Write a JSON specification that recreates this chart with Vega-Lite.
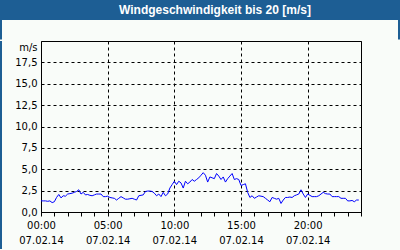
{
  "$schema": "https://vega.github.io/schema/vega-lite/v6.json",
  "background": "#f9fcf9",
  "padding": 0,
  "spacing": 0,
  "config": {
    "view": {"stroke": null},
    "concat": {"spacing": 0},
    "font": "DejaVu Sans"
  },
  "vconcat": [
    {
      "width": 400,
      "height": 20,
      "view": {"fill": "#1d5e94", "stroke": null},
      "data": {"values": [{"title": "Windgeschwindigkeit bis 20 [m/s]"}]},
      "mark": {"type": "text", "color": "white", "fontWeight": "bold", "fontSize": 12, "font": "Liberation Sans", "dx": 15},
      "encoding": {"text": {"field": "title"}}
    },
    {
      "spacing": 0,
      "hconcat": [
        {"width": 2, "height": 19.5, "view": {"fill": "#1d5e94", "stroke": null}, "data": {"values": [{}]}, "mark": {"type": "text", "fontSize": 1}, "encoding": {"text": {"value": ""}}},
        {"width": 396, "height": 19.5, "view": {"fill": null, "stroke": null}, "data": {"values": [{}]}, "mark": {"type": "text", "fontSize": 1}, "encoding": {"text": {"value": ""}}},
        {"width": 2, "height": 19.5, "view": {"fill": "#1d5e94", "stroke": null}, "data": {"values": [{}]}, "mark": {"type": "text", "fontSize": 1}, "encoding": {"text": {"value": ""}}}
      ]
    },
    {
      "spacing": 0,
      "hconcat": [
        {"width": 2, "height": 208, "view": {"fill": "#1d5e94", "stroke": null}, "data": {"values": [{}]}, "mark": {"type": "text", "fontSize": 1}, "encoding": {"text": {"value": ""}}},
        {
          "width": 320,
          "height": 171,
          "view": {"stroke": "black", "strokeWidth": 1, "fill": null},
          "data": {
            "values": [
              {"t": "2014-02-07T00:00", "v": 1.3}, {"t": "2014-02-07T00:10", "v": 1.3}, {"t": "2014-02-07T00:20", "v": 1.3}, {"t": "2014-02-07T00:30", "v": 1.25},
              {"t": "2014-02-07T00:40", "v": 1.3}, {"t": "2014-02-07T00:50", "v": 1.1}, {"t": "2014-02-07T01:00", "v": 1.2}, {"t": "2014-02-07T01:10", "v": 1.7},
              {"t": "2014-02-07T01:20", "v": 2.05}, {"t": "2014-02-07T01:30", "v": 1.65}, {"t": "2014-02-07T01:40", "v": 1.9}, {"t": "2014-02-07T01:50", "v": 1.85},
              {"t": "2014-02-07T02:00", "v": 2.1}, {"t": "2014-02-07T02:10", "v": 2.15}, {"t": "2014-02-07T02:20", "v": 2.2}, {"t": "2014-02-07T02:30", "v": 2.3},
              {"t": "2014-02-07T02:40", "v": 2.4}, {"t": "2014-02-07T02:50", "v": 2.6}, {"t": "2014-02-07T03:00", "v": 2.1}, {"t": "2014-02-07T03:10", "v": 2.3},
              {"t": "2014-02-07T03:20", "v": 2.0}, {"t": "2014-02-07T03:30", "v": 2.05}, {"t": "2014-02-07T03:40", "v": 1.95}, {"t": "2014-02-07T03:50", "v": 1.9},
              {"t": "2014-02-07T04:00", "v": 2.0}, {"t": "2014-02-07T04:10", "v": 2.1}, {"t": "2014-02-07T04:20", "v": 2.1}, {"t": "2014-02-07T04:30", "v": 2.1},
              {"t": "2014-02-07T04:40", "v": 1.8}, {"t": "2014-02-07T04:50", "v": 1.8}, {"t": "2014-02-07T05:00", "v": 1.85}, {"t": "2014-02-07T05:10", "v": 1.7},
              {"t": "2014-02-07T05:20", "v": 1.65}, {"t": "2014-02-07T05:30", "v": 1.6}, {"t": "2014-02-07T05:40", "v": 1.4}, {"t": "2014-02-07T05:50", "v": 1.6},
              {"t": "2014-02-07T06:00", "v": 1.8}, {"t": "2014-02-07T06:10", "v": 1.65}, {"t": "2014-02-07T06:20", "v": 1.5}, {"t": "2014-02-07T06:30", "v": 1.5},
              {"t": "2014-02-07T06:40", "v": 1.55}, {"t": "2014-02-07T06:50", "v": 1.6}, {"t": "2014-02-07T07:00", "v": 1.5}, {"t": "2014-02-07T07:10", "v": 1.4},
              {"t": "2014-02-07T07:20", "v": 1.9}, {"t": "2014-02-07T07:30", "v": 1.95}, {"t": "2014-02-07T07:40", "v": 2.0}, {"t": "2014-02-07T07:50", "v": 2.4},
              {"t": "2014-02-07T08:00", "v": 2.45}, {"t": "2014-02-07T08:10", "v": 2.45}, {"t": "2014-02-07T08:20", "v": 2.4}, {"t": "2014-02-07T08:30", "v": 2.2},
              {"t": "2014-02-07T08:40", "v": 1.9}, {"t": "2014-02-07T08:50", "v": 2.1}, {"t": "2014-02-07T09:00", "v": 1.8}, {"t": "2014-02-07T09:10", "v": 2.3},
              {"t": "2014-02-07T09:20", "v": 1.9}, {"t": "2014-02-07T09:30", "v": 2.1}, {"t": "2014-02-07T09:40", "v": 2.8}, {"t": "2014-02-07T09:50", "v": 3.2},
              {"t": "2014-02-07T10:00", "v": 3.6}, {"t": "2014-02-07T10:10", "v": 3.2}, {"t": "2014-02-07T10:20", "v": 3.6}, {"t": "2014-02-07T10:30", "v": 3.4},
              {"t": "2014-02-07T10:40", "v": 2.8}, {"t": "2014-02-07T10:50", "v": 3.6}, {"t": "2014-02-07T11:00", "v": 3.3}, {"t": "2014-02-07T11:10", "v": 3.5},
              {"t": "2014-02-07T11:20", "v": 3.8}, {"t": "2014-02-07T11:30", "v": 3.6}, {"t": "2014-02-07T11:40", "v": 3.8}, {"t": "2014-02-07T11:50", "v": 4.0},
              {"t": "2014-02-07T12:00", "v": 4.3}, {"t": "2014-02-07T12:10", "v": 4.6}, {"t": "2014-02-07T12:20", "v": 4.3}, {"t": "2014-02-07T12:30", "v": 3.5},
              {"t": "2014-02-07T12:40", "v": 4.1}, {"t": "2014-02-07T12:50", "v": 4.0}, {"t": "2014-02-07T13:00", "v": 3.9}, {"t": "2014-02-07T13:10", "v": 4.5},
              {"t": "2014-02-07T13:20", "v": 4.2}, {"t": "2014-02-07T13:30", "v": 3.8}, {"t": "2014-02-07T13:40", "v": 4.1}, {"t": "2014-02-07T13:50", "v": 3.5},
              {"t": "2014-02-07T14:00", "v": 3.9}, {"t": "2014-02-07T14:10", "v": 4.2}, {"t": "2014-02-07T14:20", "v": 4.5}, {"t": "2014-02-07T14:30", "v": 3.8},
              {"t": "2014-02-07T14:40", "v": 3.9}, {"t": "2014-02-07T14:50", "v": 3.8}, {"t": "2014-02-07T15:00", "v": 3.1}, {"t": "2014-02-07T15:10", "v": 3.2},
              {"t": "2014-02-07T15:20", "v": 3.3}, {"t": "2014-02-07T15:30", "v": 2.3}, {"t": "2014-02-07T15:40", "v": 1.7}, {"t": "2014-02-07T15:50", "v": 1.9},
              {"t": "2014-02-07T16:00", "v": 1.6}, {"t": "2014-02-07T16:10", "v": 1.75}, {"t": "2014-02-07T16:20", "v": 1.9}, {"t": "2014-02-07T16:30", "v": 1.85},
              {"t": "2014-02-07T16:40", "v": 1.8}, {"t": "2014-02-07T16:50", "v": 1.6}, {"t": "2014-02-07T17:00", "v": 1.4}, {"t": "2014-02-07T17:10", "v": 1.2},
              {"t": "2014-02-07T17:20", "v": 1.7}, {"t": "2014-02-07T17:30", "v": 1.6}, {"t": "2014-02-07T17:40", "v": 1.5}, {"t": "2014-02-07T17:50", "v": 1.6},
              {"t": "2014-02-07T18:00", "v": 1.0}, {"t": "2014-02-07T18:10", "v": 1.4}, {"t": "2014-02-07T18:20", "v": 1.7}, {"t": "2014-02-07T18:30", "v": 1.7},
              {"t": "2014-02-07T18:40", "v": 1.75}, {"t": "2014-02-07T18:50", "v": 1.7}, {"t": "2014-02-07T19:00", "v": 1.9}, {"t": "2014-02-07T19:10", "v": 2.0},
              {"t": "2014-02-07T19:20", "v": 2.1}, {"t": "2014-02-07T19:30", "v": 2.6}, {"t": "2014-02-07T19:40", "v": 2.1}, {"t": "2014-02-07T19:50", "v": 1.7},
              {"t": "2014-02-07T20:00", "v": 2.1}, {"t": "2014-02-07T20:10", "v": 1.95}, {"t": "2014-02-07T20:20", "v": 1.8}, {"t": "2014-02-07T20:30", "v": 1.8},
              {"t": "2014-02-07T20:40", "v": 1.8}, {"t": "2014-02-07T20:50", "v": 1.9}, {"t": "2014-02-07T21:00", "v": 2.1}, {"t": "2014-02-07T21:10", "v": 2.3},
              {"t": "2014-02-07T21:20", "v": 2.15}, {"t": "2014-02-07T21:30", "v": 2.1}, {"t": "2014-02-07T21:40", "v": 2.1}, {"t": "2014-02-07T21:50", "v": 1.8},
              {"t": "2014-02-07T22:00", "v": 1.8}, {"t": "2014-02-07T22:10", "v": 1.8}, {"t": "2014-02-07T22:20", "v": 1.8}, {"t": "2014-02-07T22:30", "v": 1.6},
              {"t": "2014-02-07T22:40", "v": 1.6}, {"t": "2014-02-07T22:50", "v": 1.6}, {"t": "2014-02-07T23:00", "v": 1.3}, {"t": "2014-02-07T23:10", "v": 1.3},
              {"t": "2014-02-07T23:20", "v": 1.35}, {"t": "2014-02-07T23:30", "v": 1.2}, {"t": "2014-02-07T23:40", "v": 1.4}, {"t": "2014-02-07T23:50", "v": 1.4}
            ],
            "format": {"parse": {"t": "utc:'%Y-%m-%dT%H:%M'"}}
          },
          "resolve": {"axis": {"y": "independent"}},
          "layer": [
            {
              "mark": {"type": "line", "color": "#0000ff", "strokeWidth": 1},
              "encoding": {
                "x": {
                  "field": "t",
                  "type": "temporal",
                  "scale": {
                    "type": "utc",
                    "domain": [
                      {"year": 2014, "month": 2, "date": 7, "hours": 0, "utc": true},
                      {"year": 2014, "month": 2, "date": 8, "hours": 0, "utc": true}
                    ]
                  },
                  "axis": {
                    "orient": "bottom",
                    "title": null,
                    "tickCount": 24,
                    "labelExpr": "utchours(datum.value) % 5 == 0 && utcdate(datum.value) == 7 ? [utcFormat(datum.value, '%H:%M'), utcFormat(datum.value, '%d.%m.%y')] : ''",
                    "labelFontSize": 10,
                    "labelColor": "black",
                    "labelLineHeight": 15,
                    "labelPadding": 4,
                    "labelFlush": false,
                    "labelOverlap": false,
                    "labelBound": false,
                    "tickColor": "black",
                    "tickSize": 4,
                    "domain": false,
                    "grid": true,
                    "gridColor": "black",
                    "gridDash": [3, 3],
                    "gridOpacity": {"condition": {"test": "utchours(datum.value) % 5 == 0", "value": 1}, "value": 0},
                    "minExtent": 37,
                    "maxExtent": 37
                  }
                },
                "y": {
                  "field": "v",
                  "type": "quantitative",
                  "scale": {"domain": [0, 20], "nice": false},
                  "axis": {
                    "values": [0, 2.5, 5, 7.5, 10, 12.5, 15, 17.5],
                    "labelExpr": "replace(format(datum.value, '.1f'), '.', ',')",
                    "labelFontSize": 10,
                    "labelColor": "black",
                    "labelPadding": 4,
                    "ticks": false,
                    "domain": false,
                    "grid": true,
                    "gridColor": "black",
                    "gridDash": [3, 3],
                    "title": "m/s",
                    "titleAngle": 0,
                    "titleX": -4,
                    "titleY": 6,
                    "titleAlign": "right",
                    "titleBaseline": "middle",
                    "titleFontWeight": "normal",
                    "titleFontSize": 10,
                    "titleColor": "black",
                    "minExtent": 38,
                    "maxExtent": 38
                  }
                }
              }
            },
            {
              "mark": {"type": "line", "strokeOpacity": 0},
              "encoding": {
                "x": {"field": "t", "type": "temporal"},
                "y": {
                  "field": "v",
                  "type": "quantitative",
                  "axis": {"orient": "right", "title": null, "labels": false, "ticks": false, "domain": false, "grid": false, "minExtent": 38, "maxExtent": 38}
                }
              }
            }
          ]
        },
        {"width": 2, "height": 208, "view": {"fill": "#1d5e94", "stroke": null}, "data": {"values": [{}]}, "mark": {"type": "text", "fontSize": 1}, "encoding": {"text": {"value": ""}}}
      ]
    },
    {
      "width": 400,
      "height": 2,
      "view": {"fill": "#1d5e94", "stroke": null},
      "data": {"values": [{}]},
      "mark": {"type": "text", "fontSize": 1},
      "encoding": {"text": {"value": ""}}
    }
  ]
}
